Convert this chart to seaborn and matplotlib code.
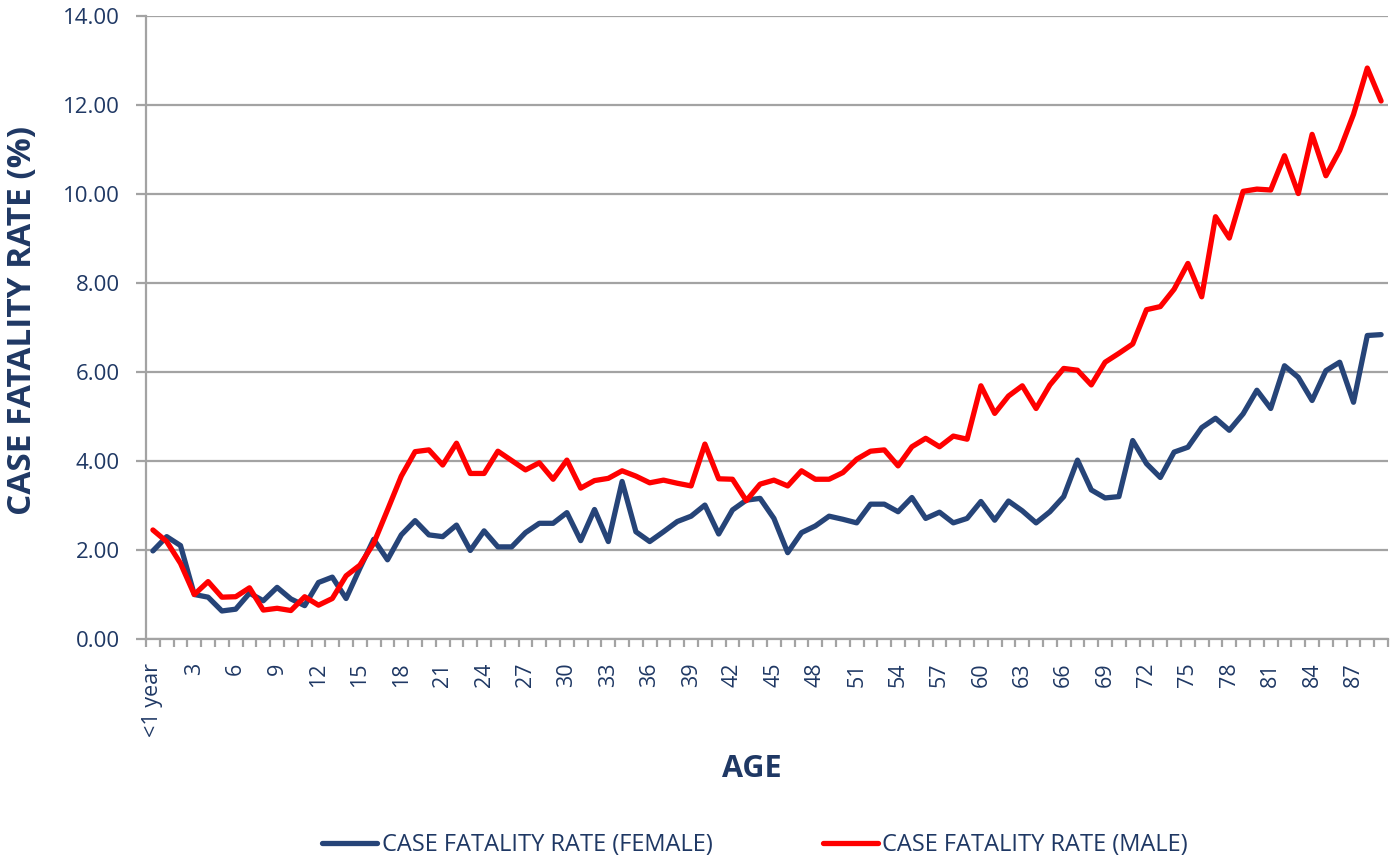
import matplotlib
matplotlib.use('Agg')
import matplotlib.pyplot as plt
import seaborn as sns
import pandas as pd
import numpy as np
from matplotlib.lines import Line2D

# Values
ages = ['<1 year'] + [str(a) for a in range(1, 90)]
female = [1.98, 2.30, 2.10, 1.00, 0.94, 0.63, 0.67, 1.03, 0.86, 1.16,
          0.90, 0.75, 1.27, 1.39, 0.91, 1.59, 2.24, 1.78, 2.34, 2.66,
          2.34, 2.30, 2.56, 1.99, 2.43, 2.07, 2.07, 2.39, 2.60, 2.60,
          2.84, 2.21, 2.91, 2.19, 3.54, 2.41, 2.19, 2.41, 2.64, 2.76,
          3.01, 2.36, 2.90, 3.12, 3.16, 2.71, 1.94, 2.39, 2.54, 2.76,
          2.69, 2.61, 3.03, 3.03, 2.86, 3.18, 2.71, 2.85, 2.61, 2.71,
          3.09, 2.67, 3.10, 2.88, 2.61, 2.86, 3.20, 4.02, 3.35, 3.17,
          3.20, 4.46, 3.94, 3.63, 4.20, 4.31, 4.75, 4.96, 4.69, 5.06,
          5.59, 5.18, 6.14, 5.88, 5.36, 6.03, 6.22, 5.32, 6.82, 6.84]
male = [2.45, 2.19, 1.70, 1.00, 1.29, 0.94, 0.95, 1.15, 0.65, 0.69,
        0.64, 0.95, 0.76, 0.91, 1.42, 1.66, 2.15, 2.90, 3.66, 4.21,
        4.25, 3.91, 4.40, 3.72, 3.72, 4.22, 4.01, 3.80, 3.96, 3.59,
        4.02, 3.39, 3.56, 3.61, 3.78, 3.66, 3.51, 3.57, 3.50, 3.44,
        4.38, 3.60, 3.59, 3.11, 3.48, 3.57, 3.44, 3.78, 3.59, 3.59,
        3.74, 4.04, 4.22, 4.25, 3.89, 4.32, 4.51, 4.32, 4.56, 4.49,
        5.69, 5.07, 5.46, 5.69, 5.18, 5.71, 6.08, 6.04, 5.71, 6.22,
        6.42, 6.63, 7.40, 7.47, 7.86, 8.44, 7.69, 9.49, 9.01, 10.06,
        10.11, 10.09, 10.86, 10.01, 11.34, 10.41, 10.98, 11.79, 12.83, 12.09]
series_names = ['CASE FATALITY RATE (FEMALE)', 'CASE FATALITY RATE (MALE)']
y_ticks = [0, 2, 4, 6, 8, 10, 12, 14]

navy = '#1f3864'
blue = '#264478'
red = '#ff0000'
grey = '#a3a3a3'

sns.set_style('white')
plt.rcParams['font.family'] = ['Open Sans', 'DejaVu Sans']

df = pd.DataFrame({
    'age': ages * 2,
    'rate': female + male,
    'series': [series_names[0]] * len(ages) + [series_names[1]] * len(ages),
})

fig = plt.figure(figsize=(13.94, 8.64), dpi=100)
ax = fig.add_axes([146 / 1394, 1 - 639 / 864, (1388 - 146) / 1394, (639 - 16) / 864])

sns.lineplot(data=df, x='age', y='rate', hue='series', hue_order=series_names,
             palette=[blue, red], linewidth=3.8, sort=False, estimator=None,
             solid_joinstyle='round', solid_capstyle='round', legend=False, ax=ax)

ax.set_xlim(-0.5, len(ages) - 0.5)
ax.set_ylim(0, 14)
ax.set_yticks(y_ticks)
ax.set_yticklabels([f'{v:.2f}' for v in y_ticks])
ax.yaxis.grid(True, color=grey, linewidth=1.6)
ax.set_axisbelow(True)

major = list(range(0, len(ages), 3))
ax.set_xticks(major)
ax.set_xticklabels([ages[i] for i in major], rotation=90)
ax.set_xticks(np.arange(-0.5, len(ages), 1), minor=True)
ax.tick_params(axis='x', which='major', length=0, pad=17, labelsize=15.5, labelcolor=navy)
ax.tick_params(axis='x', which='minor', length=6, width=1.6, color=grey, direction='out', bottom=True)
ax.tick_params(axis='y', length=7, width=1.6, color=grey, direction='out', left=True,
               pad=12, labelsize=16, labelcolor=navy)

for side in ['top', 'right']:
    ax.spines[side].set_visible(False)
for side in ['left', 'bottom']:
    ax.spines[side].set_color(grey)
    ax.spines[side].set_linewidth(1.6)

ax.set_xlabel('')
ax.set_ylabel('')
fig.text(23 / 1394, 1 - 320 / 864, 'CASE FATALITY RATE (%)', rotation=90, ha='center', va='center',
         fontsize=24, fontweight='bold', color=navy)
fig.text(752 / 1394, 1 - 769 / 864, 'AGE', ha='center', va='center',
         fontsize=22, fontweight='bold', color=navy)

handles = [Line2D([0], [0], color=blue, linewidth=3.8, solid_capstyle='round'),
           Line2D([0], [0], color=red, linewidth=3.8, solid_capstyle='round')]
leg = fig.legend(handles, series_names, loc='center', bbox_to_anchor=(755 / 1394, 1 - 845 / 864),
                 ncol=2, frameon=False, fontsize=17, handlelength=2.33, handletextpad=0.2,
                 columnspacing=4.66)
for t in leg.get_texts():
    t.set_color(navy)

fig.savefig('out.png', dpi=100)
